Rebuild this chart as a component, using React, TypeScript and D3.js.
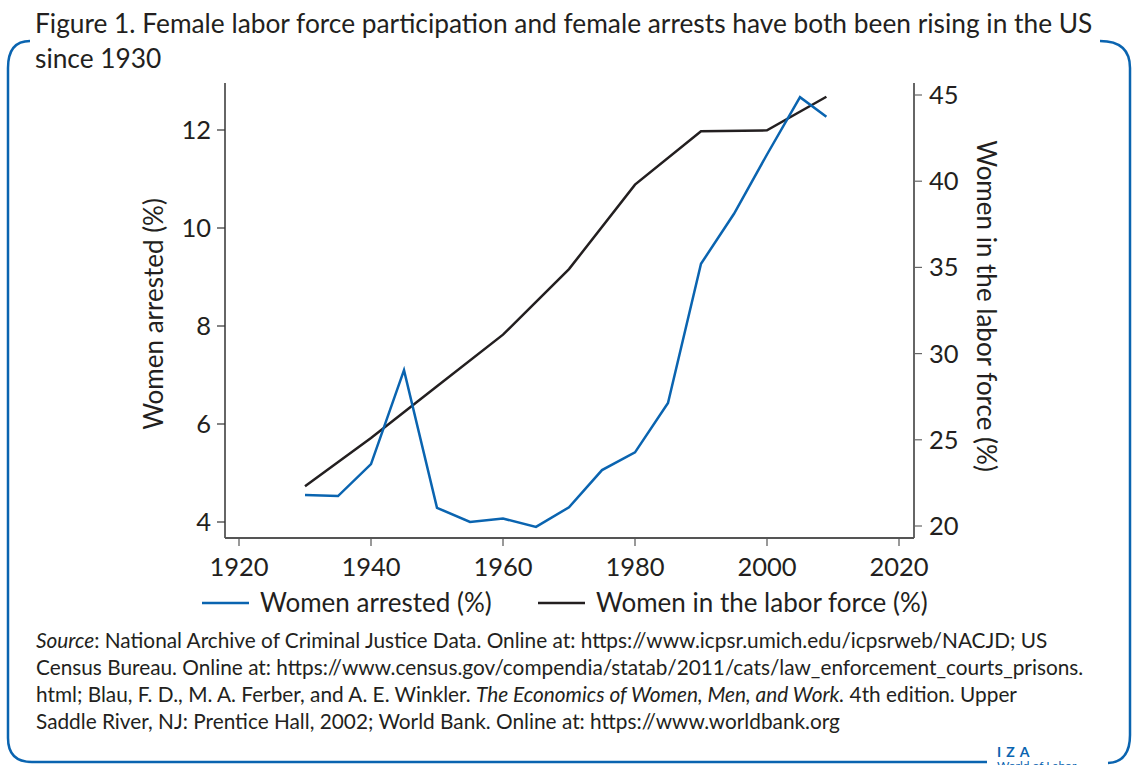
import * as d3 from "d3";

const years = [1930, 1935, 1940, 1945, 1950, 1955, 1960, 1965, 1970, 1975, 1980, 1985, 1990, 1995, 2000, 2005, 2009];
const arrested = [4.55, 4.53, 5.18, 7.1, 4.29, 4.0, 4.07, 3.9, 4.3, 5.06, 5.42, 6.43, 9.27, 10.29, 11.5, 12.67, 12.27];

const laborYears = [1930, 1940, 1950, 1960, 1970, 1980, 1990, 2000, 2009];
const labor = [22.3, 25.1, 28.1, 31.1, 34.9, 39.8, 42.9, 42.95, 44.9];

const xTicks = [1920, 1940, 1960, 1980, 2000, 2020];
const leftTicks = [4, 6, 8, 10, 12];
const rightTicks = [20, 25, 30, 35, 40, 45];

const titleLines = [
  "Figure 1. Female labor force participation and female arrests have both been rising in the US",
  "since 1930",
];

const BLUE = "#0a64b0";
const INK = "#231f20";
const FONT = "Lato, 'Noto Sans', sans-serif";

export default function App() {
  const x = d3.scaleLinear().domain([1920, 2020]).range([239, 899]);
  const yL = d3.scaleLinear().domain([4, 12]).range([522, 130]);
  const yR = d3.scaleLinear().domain([20, 45]).range([526, 95]);

  const arrestLine = d3
    .line<number>()
    .x((d, i) => x(years[i]))
    .y((d) => yL(d));
  const laborLine = d3
    .line<number>()
    .x((d, i) => x(laborYears[i]))
    .y((d) => yR(d));

  const left = 225;
  const right = 914;
  const top = 83;
  const bottom = 538;

  return (
    <svg
      width={1132}
      height={765}
      style={{ position: "absolute", left: 0, top: 0, background: "#fff" }}
      fontFamily={FONT}
    >
      {/* frame */}
      <path
        d="M30,41 Q8,41 8,68 L8,738 Q8,762 32,762 L987,762"
        fill="none"
        stroke={BLUE}
        strokeWidth={2.5}
      />
      <path
        d="M1100,41 Q1130,41 1130,68 L1130,735 Q1130,762 1108,763"
        fill="none"
        stroke={BLUE}
        strokeWidth={2.5}
      />

      {/* title */}
      {titleLines.map((t, i) => (
        <text key={i} x={35} y={33 + i * 35} fontSize={26.3} fill={INK}>
          {t}
        </text>
      ))}

      {/* axes */}
      <line x1={left} x2={left} y1={top} y2={bottom} stroke="#333" strokeWidth={1.5} />
      <line x1={right} x2={right} y1={top} y2={bottom} stroke="#666" strokeWidth={2} />
      <line x1={left} x2={right} y1={bottom} y2={bottom} stroke="#555" strokeWidth={2} />

      {xTicks.map((t) => (
        <g key={t}>
          <line x1={x(t)} x2={x(t)} y1={bottom} y2={bottom + 8} stroke="#555" strokeWidth={1.2} />
          <text x={x(t)} y={576} textAnchor="middle" fontSize={25.5} fill={INK}>
            {t}
          </text>
        </g>
      ))}
      {leftTicks.map((t) => (
        <g key={t}>
          <line x1={left - 8} x2={left} y1={yL(t)} y2={yL(t)} stroke="#333" strokeWidth={1.2} />
          <text x={211} y={yL(t)} dy="0.35em" textAnchor="end" fontSize={25.5} fill={INK}>
            {t}
          </text>
        </g>
      ))}
      {rightTicks.map((t) => (
        <g key={t}>
          <line x1={right} x2={right + 8} y1={yR(t)} y2={yR(t)} stroke="#666" strokeWidth={1.2} />
          <text x={929} y={yR(t)} dy="0.35em" fontSize={25.5} fill={INK}>
            {t}
          </text>
        </g>
      ))}

      <text
        transform={`translate(163,314) rotate(-90)`}
        textAnchor="middle"
        fontSize={26}
        fill={INK}
      >
        Women arrested (%)
      </text>
      <text
        transform={`translate(977,306) rotate(90)`}
        textAnchor="middle"
        fontSize={26}
        fill={INK}
      >
        Women in the labor force (%)
      </text>

      {/* series */}
      <path d={laborLine(labor) ?? ""} fill="none" stroke={INK} strokeWidth={2.5} />
      <path d={arrestLine(arrested) ?? ""} fill="none" stroke={BLUE} strokeWidth={2.5} />

      {/* legend */}
      <line x1={202} x2={249} y1={603} y2={603} stroke={BLUE} strokeWidth={2.5} />
      <text x={260} y={603} dy="0.35em" fontSize={26} fill={INK}>
        Women arrested (%)
      </text>
      <line x1={538} x2={585} y1={603} y2={603} stroke={INK} strokeWidth={2.5} />
      <text x={596} y={603} dy="0.35em" fontSize={26} fill={INK}>
        Women in the labor force (%)
      </text>

      {/* source */}
      <g fontSize={20.8} fill={INK}>
        <text x={36} y={648}>
          <tspan fontStyle="italic">Source</tspan>: National Archive of Criminal Justice Data. Online at:
          https://www.icpsr.umich.edu/icpsrweb/NACJD; US
        </text>
        <text x={36} y={675}>
          Census Bureau. Online at: https://www.census.gov/compendia/statab/2011/cats/law_enforcement_courts_prisons.
        </text>
        <text x={36} y={702}>
          html; Blau, F. D., M. A. Ferber, and A. E. Winkler.{" "}
          <tspan fontStyle="italic">The Economics of Women, Men, and Work.</tspan> 4th edition. Upper
        </text>
        <text x={36} y={729}>
          Saddle River, NJ: Prentice Hall, 2002; World Bank. Online at: https://www.worldbank.org
        </text>
      </g>

      {/* logo */}
      <text x={997} y={757} fontSize={14} fontWeight="bold" fill={BLUE} letterSpacing={5}>
        IZA
      </text>
      <text x={997} y={770} fontSize={12} fill={BLUE}>
        World of Labor
      </text>
    </svg>
  );
}
